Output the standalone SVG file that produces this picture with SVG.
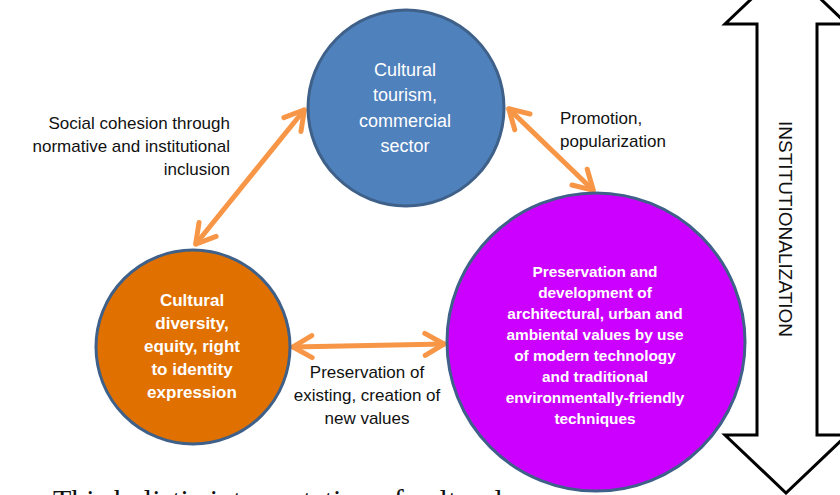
<svg xmlns="http://www.w3.org/2000/svg" width="840" height="495" viewBox="0 0 840 495">
  <style>
    .node { stroke: #3f6189; stroke-width: 3; }
    .conn { stroke: #f79646; stroke-width: 5; fill: none; }
    .lbl { font-family: "Liberation Sans", Arial, sans-serif; font-size: 17px; fill: #111; }
    .wt { font-family: "Liberation Sans", Arial, sans-serif; fill: #fff; text-anchor: middle; }
  </style>
  <defs>
    <marker id="chev" markerUnits="userSpaceOnUse" markerWidth="40" markerHeight="40" viewBox="-30 -20 40 40" refX="0" refY="0" orient="auto-start-reverse">
      <path d="M -20 -11 L -1 0 L -20 11" fill="none" stroke="#f79646" stroke-width="5" stroke-linejoin="round" stroke-linecap="round"/>
    </marker>
  </defs>
  <rect width="840" height="495" fill="#fff"/>

  <g id="institutionalization">
    <path d="M 757 24 L 725 24 L 786 -34 L 847 24 L 817 24 L 817 435 L 847 435 L 786 493 L 725 435 L 757 435 Z" fill="#fff" stroke="#000" stroke-width="3" stroke-linejoin="miter"/>
    <text transform="translate(785 229) rotate(90)" x="0" y="0" text-anchor="middle" dominant-baseline="central" font-family="'Liberation Sans', Arial, sans-serif" font-size="19" fill="#111">INSTITUTIONALIZATION</text>
  </g>

  <g id="connectors">
    <line class="conn" x1="305" y1="109" x2="195" y2="245" marker-start="url(#chev)" marker-end="url(#chev)"/>
    <line class="conn" x1="508" y1="108" x2="594" y2="191" marker-start="url(#chev)" marker-end="url(#chev)"/>
    <line class="conn" x1="292" y1="347" x2="445" y2="344" marker-start="url(#chev)" marker-end="url(#chev)"/>
  </g>

  <g id="node-tourism">
    <circle class="node" cx="406" cy="108" r="98" fill="#4f81bd"/>
    <text class="wt" font-size="18"><tspan x="405" y="76">Cultural</tspan><tspan x="405" y="101">tourism,</tspan><tspan x="405" y="127">commercial</tspan><tspan x="405" y="152">sector</tspan></text>
  </g>

  <g id="node-diversity">
    <circle class="node" cx="193" cy="347" r="97" fill="#e07000"/>
    <text class="wt" font-size="17" font-weight="bold"><tspan x="192" y="306">Cultural</tspan><tspan x="192" y="329">diversity,</tspan><tspan x="192" y="352">equity, right</tspan><tspan x="192" y="375">to identity</tspan><tspan x="192" y="398">expression</tspan></text>
  </g>

  <g id="node-preservation">
    <circle class="node" cx="596" cy="342" r="149" fill="#cc00ff"/>
    <text class="wt" font-size="15.4" font-weight="bold"><tspan x="595" y="277">Preservation and</tspan><tspan x="595" y="298">development of</tspan><tspan x="595" y="319">architectural, urban and</tspan><tspan x="595" y="340">ambiental values by use</tspan><tspan x="595" y="361">of modern technology</tspan><tspan x="595" y="382">and traditional</tspan><tspan x="595" y="403">environmentally-friendly</tspan><tspan x="595" y="424">techniques</tspan></text>
  </g>

  <g id="labels">
    <text class="lbl" text-anchor="end"><tspan x="230" y="129">Social cohesion through</tspan><tspan x="230" y="152">normative and institutional</tspan><tspan x="230" y="175">inclusion</tspan></text>
    <text class="lbl"><tspan x="560" y="124">Promotion,</tspan><tspan x="560" y="147">popularization</tspan></text>
    <text class="lbl" text-anchor="middle"><tspan x="367" y="378">Preservation of</tspan><tspan x="367" y="401">existing, creation of</tspan><tspan x="367" y="424">new values</tspan></text>
  </g>

  <text x="53" y="510" font-family="'Liberation Serif', 'Times New Roman', serif" font-size="30" fill="#111">This holistic interpretation of cultural</text>
</svg>
